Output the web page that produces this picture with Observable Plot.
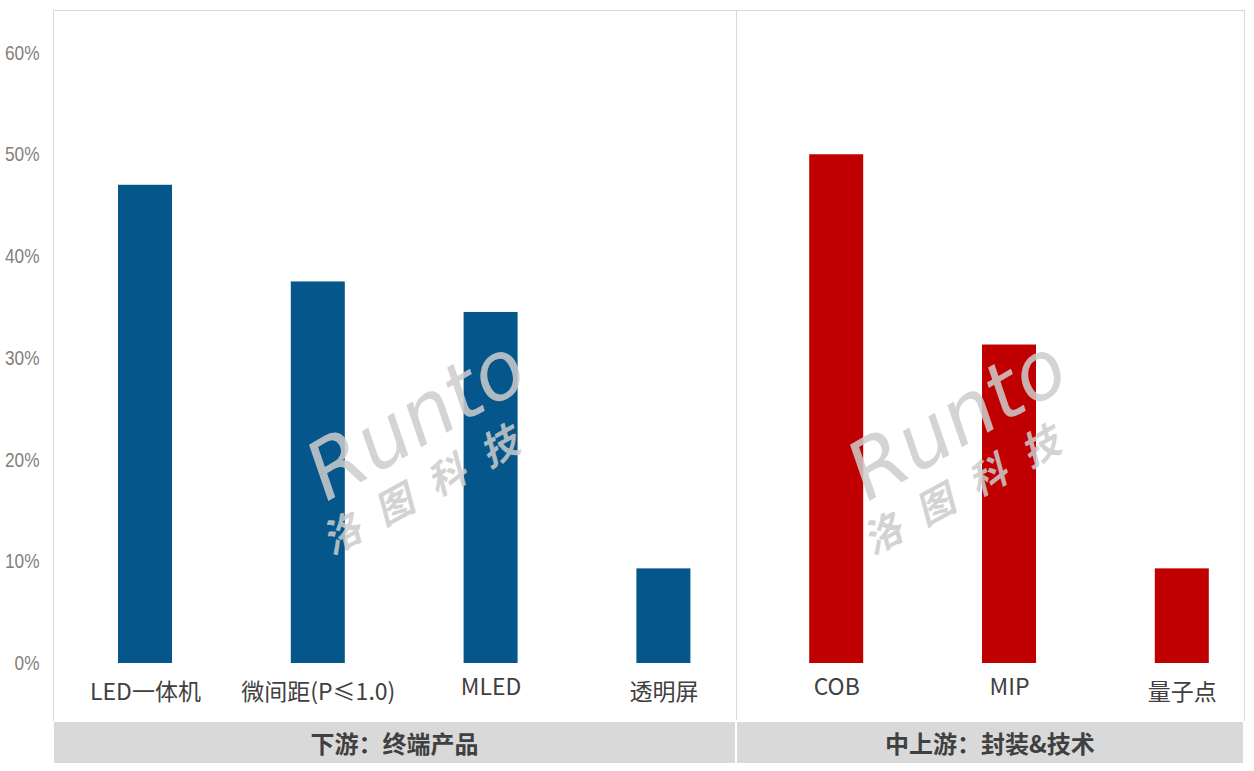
<!DOCTYPE html>
<html><head><meta charset="utf-8">
<script src="https://cdn.jsdelivr.net/npm/d3@7"></script>
<script src="https://cdn.jsdelivr.net/npm/@observablehq/plot@0.6"></script>
<style>html,body{margin:0;padding:0;background:#fff;overflow:hidden}</style>
</head><body><div id="chart"></div>
<script>
// ---- data ----
const categories = ["LED一体机", "微间距(P≤1.0)", "MLED", "透明屏", "COB", "MIP", "量子点"];
const values = [0.47, 0.375, 0.345, 0.093, 0.50, 0.313, 0.093];
const segments = ["下游", "下游", "下游", "下游", "中上游", "中上游", "中上游"];
const groupKeys = ["下游", "中上游"];
const groupNames = ["下游：终端产品", "中上游：封装&技术"];
const groupColors = ["#05568A", "#C00000"];
const yTicks = [0, 0.1, 0.2, 0.3, 0.4, 0.5, 0.6];
const watermarkLatin = "Runto";
const watermarkCJK = "洛图科技";

const data = categories.map((c, i) => ({category: c, value: values[i], segment: segments[i]}));

// ---- layout ----
const W = 1254, H = 771;
const frameLeft = 53, frameTop = 10, frameRight = 1244, frameBottom = 720;
const dividerX = 736;
const bandTop = 722, bandBottom = 763;
const lineColor = "#d9d9d9";
const textDark = "#404040";
const cjkFont = "'Noto Sans CJK SC', 'Microsoft YaHei', sans-serif";
const hasCJK = s => /[\u4e00-\u9fff]/.test(s);

function decor(index, scales, values, dims) {
  const g = d3.create("svg:g");
  g.append("line").attr("x1", dividerX + 0.5).attr("x2", dividerX + 0.5)
    .attr("y1", frameTop).attr("y2", frameBottom).attr("stroke", lineColor);
  const bands = [[frameLeft + 1, dividerX - 1], [dividerX + 1, frameRight - 1]];
  bands.forEach(([a, b], i) => {
    g.append("rect").attr("x", a).attr("y", bandTop).attr("width", b - a)
      .attr("height", bandBottom - bandTop).attr("fill", "#d9d9d9");
    g.append("text").attr("x", (a + b) / 2).attr("y", (bandTop + bandBottom) / 2)
      .attr("text-anchor", "middle").attr("dominant-baseline", "central")
      .attr("font-family", cjkFont).attr("font-weight", "bold").attr("font-size", 24)
      .attr("fill", textDark).text(groupNames[i]);
  });
  return g.node();
}

const wmOffsets = [363, 904];

const plot = Plot.plot({
  width: W, height: H,
  marginLeft: frameLeft, marginTop: frameTop, marginRight: W - frameRight, marginBottom: H - frameBottom,
  style: {background: "white", fontFamily: cjkFont},
  x: {type: "band", domain: categories, range: [58.6, 1268.2], paddingInner: 0.6875, paddingOuter: 0.34375, round: false, axis: null},
  y: {domain: [0, 0.6], range: [663, 52.5], axis: null},
  color: {domain: groupKeys, range: groupColors},
  marks: [
    Plot.frame({anchor: "left", stroke: lineColor}),
    Plot.frame({anchor: "top", stroke: lineColor}),
    Plot.frame({anchor: "right", stroke: lineColor}),
    decor,
    Plot.barY(data, {x: "category", y: "value", fill: "segment"}),
    Plot.text(yTicks, {y: d => d, text: d3.format(".0%"), frameAnchor: "left", dx: -14, textAnchor: "end",
      fontSize: 21, fill: "#7f7f7f", fontFamily: "'Liberation Sans', Arial, sans-serif", className: "ytick"}),
    Plot.text(data.filter(d => !hasCJK(d.category)), {x: "category", y: d => 0, text: "category", dy: 24.5,
      fontSize: 23, fill: textDark, fontFamily: cjkFont, lineAnchor: "middle"}),
    Plot.text(data.filter(d => hasCJK(d.category)), {x: "category", y: d => 0, text: "category", dy: 29,
      fontSize: 23, fill: textDark, fontFamily: cjkFont, lineAnchor: "middle"}),
    ...wmOffsets.map(dx => Plot.text([watermarkLatin], {text: d => d, frameAnchor: "top-left", dx, dy: 410, rotate: -30,
      fontSize: 80, fontStyle: "italic", fontFamily: "'DejaVu Sans', sans-serif", fill: "#cccccc", fillOpacity: 0.85,
      textAnchor: "middle", lineAnchor: "middle"})),
    ...wmOffsets.map(dx => Plot.text([watermarkCJK], {text: d => d, frameAnchor: "top-left", dx: dx + 14, dy: 476, rotate: -29,
      fontSize: 38, fontWeight: "bold", fontStyle: "italic", fontFamily: cjkFont, fill: "#cccccc", fillOpacity: 0.85,
      textAnchor: "middle", lineAnchor: "middle", className: "wmcn"}))
  ]
});
d3.select(plot).selectAll(".wmcn text").style("letter-spacing", "22px");
document.getElementById("chart").appendChild(plot);
// narrow the tick labels (Arial Narrow look)
d3.select(plot).selectAll(".ytick text").each(function() {
  const len = this.getComputedTextLength();
  this.setAttribute("textLength", (len * 0.82).toFixed(1));
  this.setAttribute("lengthAdjust", "spacingAndGlyphs");
});
</script>
</body></html>
